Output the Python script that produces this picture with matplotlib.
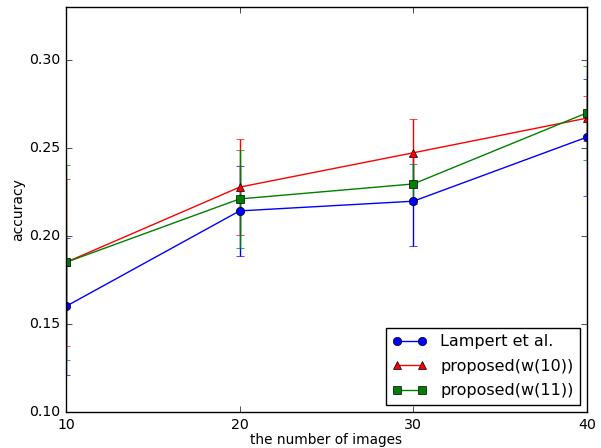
import numpy as np
import matplotlib
matplotlib.use("Agg")
import matplotlib.pyplot as plt

plt.style.use("classic")

n_images = [10, 20, 30, 40]

lampert = [0.160, 0.2142, 0.2197, 0.2561]
lampert_err = [0.039, 0.0257, 0.0254, 0.0332]

w10 = [0.185, 0.2277, 0.2472, 0.2669]
w10_err = [0.0473, 0.0273, 0.0193, 0.0128]

w11 = [0.185, 0.2210, 0.2295, 0.2699]
w11_err = [0.0553, 0.028, 0.0112, 0.0266]

labels = ["Lampert et al.", "proposed(w(10))", "proposed(w(11))"]

fig = plt.figure(figsize=(6.01, 4.48), dpi=100)
ax = fig.add_axes([0.1098, 0.0804, 0.8669, 0.904])

handles = []
for vals, errs, fmt, c in [(lampert, lampert_err, "-o", "b"),
                           (w10, w10_err, "-^", "r"),
                           (w11, w11_err, "-s", "g")]:
    cont = ax.errorbar(n_images, vals, yerr=errs, fmt=fmt, color=c,
                       ecolor=c, capsize=3, markersize=6)
    handles.append(cont[0])

ax.set_xlim(10, 40)
ax.set_ylim(0.10, 0.33)
ax.set_xticks([10, 20, 30, 40])
ax.set_yticks([0.10, 0.15, 0.20, 0.25, 0.30])
ax.set_yticklabels(["0.10", "0.15", "0.20", "0.25", "0.30"])
ax.tick_params(labelsize=10.2)

ax.set_xlabel("the number of images", fontsize=9.8, labelpad=1)
ax.set_ylabel("accuracy", fontsize=10, labelpad=3)

ax.legend(handles, labels, loc="lower right", numpoints=2, fontsize=11.5,
          handlelength=2.2, borderaxespad=0.45, labelspacing=0.6)

fig.savefig("out.png", dpi=100)
